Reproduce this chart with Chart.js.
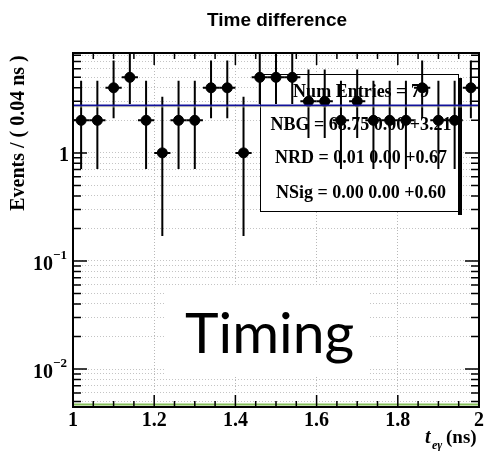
<!DOCTYPE html>
<html>
<head>
<meta charset="utf-8">
<script src="https://cdn.jsdelivr.net/npm/chart.js@4.4.1/dist/chart.umd.min.js"></script>
<style>
  body { margin: 0; background: #fff; }
  #wrap { width: 489px; height: 451px; position: relative; }
</style>
</head>
<body>
<div id="wrap"><canvas id="myChart"></canvas></div>
<script>
// bin centres (0.04 ns bins) and counts
const binCenters = [1.02, 1.06, 1.10, 1.14, 1.18, 1.22, 1.26, 1.30, 1.34, 1.38, 1.42, 1.46, 1.50,
                    1.54, 1.58, 1.62, 1.66, 1.70, 1.74, 1.78, 1.82, 1.86, 1.90, 1.94, 1.98];
const counts  = [2, 2, 4, 5, 2, 1, 2, 2, 4, 4, 1, 5, 5, 5, 3, 3, 2, 3, 2, 2, 2, 4, 2, 2, 4];
// lower / upper ends of the vertical error bars
const errLow  = [0.71, 0.71, 2.09, 2.84, 0.71, 0.17, 0.71, 0.71, 2.09, 2.09, 0.17, 2.84, 2.84,
                 2.84, 1.37, 1.37, 0.71, 1.37, 0.71, 0.71, 0.71, 2.09, 0.71, 0.71, 2.09];
const errHigh = [4.64, 4.64, 7.16, 8.38, 4.64, 3.30, 4.64, 4.64, 7.16, 7.16, 3.30, 8.38, 8.38,
                 8.38, 5.92, 5.92, 4.64, 5.92, 4.64, 4.64, 4.64, 7.16, 4.64, 4.64, 7.16];
const binHalf = 0.02;

const fitTotal = 2.75;
const fitBkg = 2.66;
const fitSignal = 0.0047;

const xLabels = [1, 1.2, 1.4, 1.6, 1.8, 2];
const yDecades = [0.001, 0.01, 0.1, 1];
const yMin = 0.00445, yMax = 8.4;

const statLines = ['Num Entries = 79', 'NBG = 68.75 0.00 +3.21', 'NRD = 0.01 0.00 +0.67', 'NSig = 0.00 0.00 +0.60'];

const serif = '"Liberation Serif", "Times New Roman", serif';

function isMajorX(v) {
  return Math.abs(v * 5 - Math.round(v * 5)) < 1e-6;
}
function isDecade(v) {
  const l = Math.log10(v);
  return Math.abs(l - Math.round(l)) < 1e-6;
}

const rootStyle = {
  id: 'rootStyle',
  beforeDatasetsDraw(chart) {
    const { ctx, scales: { x, y }, chartArea } = chart;
    ctx.save();

    // stats box
    ctx.fillStyle = '#fff';
    ctx.fillRect(260, 74, 198, 137);
    ctx.strokeStyle = '#000';
    ctx.lineWidth = 1;
    ctx.strokeRect(260.5, 74.5, 198, 137);
    ctx.fillStyle = '#000';
    ctx.fillRect(458, 78, 4, 137);
    ctx.font = 'bold 18px ' + serif;
    ctx.textAlign = 'center';
    ctx.textBaseline = 'middle';
    const rows = [92, 125, 158, 193];
    statLines.forEach((t, i) => ctx.fillText(t, 361, rows[i]));

    // error bars
    ctx.beginPath();
    ctx.rect(chartArea.left, chartArea.top, chartArea.width, chartArea.height);
    ctx.clip();
    ctx.strokeStyle = '#000';
    ctx.lineWidth = 2;
    binCenters.forEach((c, i) => {
      const px = x.getPixelForValue(c);
      const py = y.getPixelForValue(counts[i]);
      ctx.beginPath();
      ctx.moveTo(px, y.getPixelForValue(errHigh[i]));
      ctx.lineTo(px, y.getPixelForValue(errLow[i]));
      ctx.moveTo(x.getPixelForValue(c - binHalf), py);
      ctx.lineTo(x.getPixelForValue(c + binHalf), py);
      ctx.stroke();
    });
    ctx.restore();
  },
  afterDraw(chart) {
    const { ctx, scales: { x, y }, chartArea: a } = chart;
    ctx.save();

    // "Timing" overlay
    ctx.fillStyle = '#fff';
    ctx.fillRect(165, 285, 203, 90);
    ctx.fillStyle = '#000';
    ctx.font = '57px Lato, "Open Sans", sans-serif';
    ctx.textAlign = 'left';
    ctx.textBaseline = 'alphabetic';
    ctx.fillText('Timing', 185, 353);

    // frame
    ctx.strokeStyle = '#000';
    ctx.lineWidth = 2;
    ctx.strokeRect(a.left, a.top, a.right - a.left, a.bottom - a.top);

    // ticks
    ctx.lineWidth = 1.5;
    ctx.beginPath();
    x.ticks.forEach(t => {
      const px = x.getPixelForValue(t.value);
      const len = isMajorX(t.value) ? 12 : 6;
      ctx.moveTo(px, a.bottom); ctx.lineTo(px, a.bottom - len);
      ctx.moveTo(px, a.top); ctx.lineTo(px, a.top + len);
    });
    y.ticks.forEach(t => {
      const py = y.getPixelForValue(t.value);
      const len = isDecade(t.value) ? 14 : 8;
      ctx.moveTo(a.left, py); ctx.lineTo(a.left + len, py);
      ctx.moveTo(a.right, py); ctx.lineTo(a.right - len, py);
    });
    ctx.stroke();

    // tick labels
    ctx.fillStyle = '#000';
    ctx.font = 'bold 20px ' + serif;
    ctx.textAlign = 'center';
    ctx.textBaseline = 'middle';
    xLabels.forEach(v => ctx.fillText(String(v), x.getPixelForValue(v), 421));

    yDecades.forEach(v => {
      if (v < yMin) return;
      const py = y.getPixelForValue(v);
      if (v === 1) {
        ctx.font = 'bold 20px ' + serif;
        ctx.textAlign = 'right';
        ctx.fillText('1', 69, py + 3);
      } else {
        const exp = Math.round(Math.log10(v));
        ctx.font = 'bold 20px ' + serif;
        ctx.textAlign = 'right';
        ctx.fillText('10', 53, py + 4);
        ctx.font = 'bold 13px ' + serif;
        ctx.textAlign = 'left';
        ctx.fillText('\u2212' + Math.abs(exp), 53, py - 5);
      }
    });

    // title
    ctx.font = 'bold 19px "Liberation Sans", Arial, sans-serif';
    ctx.textAlign = 'center';
    ctx.fillText('Time difference', 277, 21);

    // y title
    ctx.save();
    ctx.translate(19, 133);
    ctx.rotate(-Math.PI / 2);
    ctx.font = 'bold 20px ' + serif;
    ctx.fillText('Events / ( 0.04 ns )', 0, 0);
    ctx.restore();

    // x title
    ctx.textBaseline = 'alphabetic';
    ctx.textAlign = 'left';
    ctx.font = 'italic bold 20px ' + serif;
    ctx.fillText('t', 425, 443);
    ctx.font = 'italic bold 12px ' + serif;
    ctx.fillText('e\u03b3', 432, 449);
    ctx.font = 'bold 19px ' + serif;
    ctx.fillText('(ns)', 446, 443);

    ctx.restore();
  }
};

const config = {
  type: 'scatter',
  data: {
    datasets: [
      {
        label: 'bkg',
        type: 'line',
        data: [{ x: 1, y: fitBkg }, { x: 2, y: fitBkg }],
        borderColor: 'rgba(240, 240, 150, 0.6)',
        borderWidth: 1,
        pointRadius: 0
      },
      {
        label: 'total',
        type: 'line',
        data: [{ x: 1, y: fitTotal }, { x: 2, y: fitTotal }],
        borderColor: '#12129a',
        borderWidth: 2,
        pointRadius: 0
      },
      {
        label: 'signal',
        type: 'line',
        data: [{ x: 1, y: fitSignal }, { x: 2, y: fitSignal }],
        borderColor: '#86c05a',
        borderWidth: 2,
        pointRadius: 0
      },
      {
        label: 'data',
        data: binCenters.map((c, i) => ({ x: c, y: counts[i] })),
        backgroundColor: '#000',
        borderColor: '#000',
        pointRadius: 5,
        pointHoverRadius: 5
      }
    ]
  },
  options: {
    responsive: true,
    maintainAspectRatio: false,
    animation: false,
    events: [],
    layout: { padding: { top: 53, right: 10, left: 0, bottom: 0 } },
    plugins: { legend: { display: false }, tooltip: { enabled: false } },
    scales: {
      x: {
        type: 'linear',
        min: 1,
        max: 2,
        ticks: { display: false, stepSize: 0.05 },
        grid: {
          drawTicks: false,
          lineWidth: 1,
          color: c => (c.tick && isMajorX(c.tick.value) ? '#b8b8b8' : 'rgba(0,0,0,0)')
        },
        border: { display: false, dash: [1, 2] },
        afterFit: s => { s.height = 44; }
      },
      y: {
        type: 'logarithmic',
        min: yMin,
        max: yMax,
        ticks: { display: false },
        afterBuildTicks: s => {
          const vals = [];
          yDecades.forEach(d => {
            for (let m = 1; m <= 9; m++) {
              const v = Number((m * d).toPrecision(3));
              if (v >= yMin && v <= yMax) vals.push({ value: v });
            }
          });
          s.ticks = vals;
        },
        grid: { drawTicks: false, lineWidth: 1, color: '#c4c4c4' },
        border: { display: false, dash: [1, 2] },
        afterFit: s => { s.width = 73; }
      }
    }
  },
  plugins: [rootStyle]
};

const myChart = new Chart(document.getElementById('myChart'), config);
</script>
</body>
</html>
